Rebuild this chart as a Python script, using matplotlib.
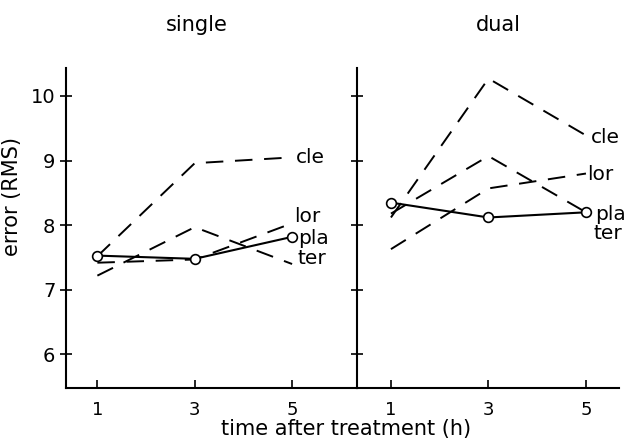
import matplotlib
matplotlib.use('Agg')
import matplotlib.pyplot as plt

hours = [1, 3, 5]
names = ['cle', 'lor', 'pla', 'ter']

single = {'cle': [7.52, 8.96, 9.05],
          'lor': [7.42, 7.47, 8.03],
          'pla': [7.53, 7.48, 7.82],
          'ter': [7.22, 7.97, 7.40]}
dual = {'cle': [8.12, 10.27, 9.39],
        'lor': [7.63, 8.57, 8.80],
        'pla': [8.35, 8.12, 8.20],
        'ter': [8.18, 9.07, 8.20]}
yticks = [6, 7, 8, 9, 10]

# label offsets (dx, dy) next to the line ends
lab_single = {'cle': (0.08, 0.0), 'lor': (0.05, 0.1), 'pla': (0.12, -0.02), 'ter': (0.12, 0.08)}
lab_dual = {'cle': (0.1, -0.04), 'lor': (0.02, -0.01), 'pla': (0.18, -0.03), 'ter': (0.15, -0.33)}

plt.rcParams['font.family'] = 'DejaVu Sans'
fig = plt.figure(figsize=(6.26, 4.4), dpi=100)
ax1 = fig.add_axes([0.105, 0.118, 0.465, 0.727])
ax2 = fig.add_axes([0.570, 0.118, 0.419, 0.727])


def draw(ax, data, labs):
    for n in names:
        if n == 'pla':
            ax.plot(hours, data[n], '-', color='black', lw=1.5, marker='o',
                    ms=7, mfc='white', mec='black', mew=1.2, zorder=3)
        else:
            ax.plot(hours, data[n], color='black', lw=1.4, dashes=(9, 6))
        dx, dy = labs[n]
        ax.text(hours[-1] + dx, data[n][-1] + dy, n, ha='left', va='center',
                fontsize=14.5, clip_on=False)
    ax.set_ylim(5.48, 10.43)
    ax.set_xticks(hours)
    ax.set_yticks(yticks)
    for s in ['top', 'right']:
        ax.spines[s].set_visible(False)
    for s in ['left', 'bottom']:
        ax.spines[s].set_linewidth(1.5)
    ax.tick_params(axis='x', direction='in', length=6, width=1.2, labelsize=13, pad=9)
    ax.tick_params(axis='y', direction='inout', length=8, width=1.2, labelsize=14)


draw(ax1, single, lab_single)
draw(ax2, dual, lab_dual)
ax1.set_xlim(0.35, 6.33)
ax2.set_xlim(0.30, 5.68)
ax2.tick_params(axis='y', labelleft=False)

fig.text(0.315, 0.943, 'single', ha='center', va='center', fontsize=15)
fig.text(0.796, 0.943, 'dual', ha='center', va='center', fontsize=15)
ax1.set_ylabel('error (RMS)', fontsize=15)
ax1.yaxis.set_label_coords(-0.15, 0.6)
fig.text(0.553, 0.025, 'time after treatment (h)', ha='center', va='center', fontsize=15)

plt.savefig('out.png', dpi=100)
plt.close('all')
